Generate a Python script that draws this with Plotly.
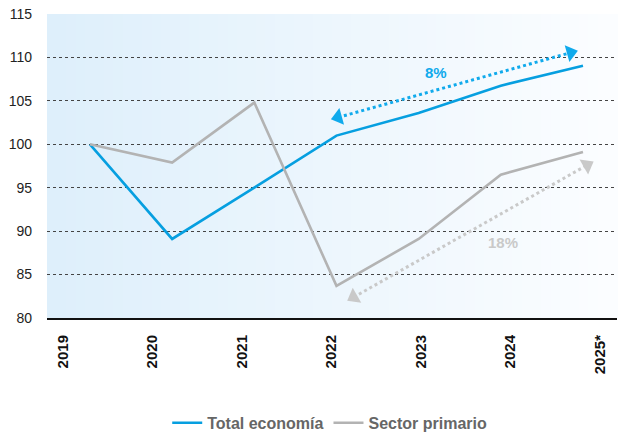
import math
import plotly.graph_objects as go

years = ["2019", "2020", "2021", "2022", "2023", "2024", "2025*"]
total_economia = [100.0, 89.1, 95.0, 101.0, 103.6, 106.75, 109.05]
sector_primario = [100.0, 97.9, 104.8, 83.7, 89.1, 96.5, 99.1]
y_ticks = [80, 85, 90, 95, 100, 105, 110, 115]

# growth annotations (arrow ends in data units of the index axis)
blue_arrow_x = [3.02, 5.85]
blue_arrow_y = [103.1, 110.55]
gray_arrow_x = [3.21, 6.05]
gray_arrow_y = [82.4, 97.6]
blue_label = "8%"
gray_label = "18%"

BLUE = "#069fe0"
BLUE_ARROW = "#10aaec"
GRAY = "#b3b3b3"
GRAY_ARROW = "#c9c9c9"
FONT = "Liberation Sans, Arial, sans-serif"

X_RANGE = [-0.523, 6.414]
Y_RANGE = [80, 115]
W, H = 618, 434
M = dict(l=47, r=1, t=14, b=116)

idx = list(range(len(years)))

fig = go.Figure()

# gradient background strips
n = 60
c0 = (222, 239, 251)
c1 = (251, 253, 255)
for i in range(n):
    t = i / (n - 1)
    col = tuple(round(c0[k] + (c1[k] - c0[k]) * t) for k in range(3))
    fig.add_shape(type="rect", xref="paper", yref="paper",
                  x0=i / n, x1=(i + 1) / n + 0.002, y0=0, y1=1,
                  fillcolor="rgb(%d,%d,%d)" % col, line_width=0, layer="below")

fig.add_trace(go.Scatter(x=idx, y=total_economia, mode="lines", name="<b>Total economía</b>",
                         line=dict(color=BLUE, width=2.6)))
fig.add_trace(go.Scatter(x=idx, y=sector_primario, mode="lines", name="<b>Sector primario</b>",
                         line=dict(color=GRAY, width=2.6)))


def arrow_angles(xs, ys):
    px_x = (W - M["l"] - M["r"]) / (X_RANGE[1] - X_RANGE[0])
    px_y = (H - M["t"] - M["b"]) / (Y_RANGE[1] - Y_RANGE[0])
    dx = (xs[1] - xs[0]) * px_x
    dy = (ys[1] - ys[0]) * px_y
    a = math.degrees(math.atan2(dy, dx))
    return [-90 - a, 90 - a]


# dotted arrows
fig.add_trace(go.Scatter(x=blue_arrow_x, y=blue_arrow_y, mode="lines+markers", showlegend=False,
                         line=dict(color=BLUE_ARROW, width=3, dash="dot"),
                         marker=dict(symbol="triangle-up", size=15,
                                     angle=arrow_angles(blue_arrow_x, blue_arrow_y),
                                     color=BLUE_ARROW, line_width=0),
                         hoverinfo="skip"))
fig.add_trace(go.Scatter(x=gray_arrow_x, y=gray_arrow_y, mode="lines+markers", showlegend=False,
                         line=dict(color=GRAY_ARROW, width=3, dash="dot"),
                         marker=dict(symbol="triangle-up", size=15,
                                     angle=arrow_angles(gray_arrow_x, gray_arrow_y),
                                     color=GRAY_ARROW, line_width=0),
                         hoverinfo="skip"))

# invisible trace to carry the category label axis
fig.add_trace(go.Scatter(x=idx, y=[None] * len(idx), xaxis="x2", showlegend=False,
                         hoverinfo="skip", mode="lines"))

fig.add_annotation(x=4.21, y=108.3, text="<b>%s</b>" % blue_label, showarrow=False,
                   font=dict(color=BLUE_ARROW, size=15, family=FONT))
fig.add_annotation(x=5.03, y=88.75, text="<b>%s</b>" % gray_label, showarrow=False,
                   font=dict(color=GRAY_ARROW, size=15, family=FONT))

fig.update_layout(
    width=W, height=H,
    margin=dict(**M, autoexpand=False),
    paper_bgcolor="white", plot_bgcolor="rgba(0,0,0,0)",
    font=dict(family=FONT, color="#222"),
    xaxis=dict(range=X_RANGE, showticklabels=False, showgrid=False, zeroline=False,
               showline=True, linecolor="#111", linewidth=2, ticks="", automargin=False),
    xaxis2=dict(range=[-0.179, 6.19], overlaying="x", side="bottom", anchor="y",
                tickvals=idx, ticktext=["<b>%s</b>" % y for y in years], tickangle=-90,
                showgrid=False, zeroline=False, ticks="", showline=False, automargin=False,
                ticklabelstandoff=13,
                tickfont=dict(size=15, color="#111", family=FONT)),
    yaxis=dict(range=Y_RANGE, tickvals=y_ticks, showgrid=True, gridcolor="#444",
               griddash="dot", gridwidth=1, zeroline=False, ticks="", ticklabelstandoff=14,
               automargin=False,
               tickfont=dict(size=14, color="#222", family=FONT)),
    legend=dict(orientation="h", x=0.496, xanchor="center", y=-0.345, yanchor="middle",
                font=dict(size=16, color="#666", family=FONT), bgcolor="rgba(0,0,0,0)",
                itemwidth=30, traceorder="normal"),
    showlegend=True,
)

fig.write_html("out.html", config={"displayModeBar": False},
               post_script="document.body.style.margin='0';document.body.style.overflow='hidden';")
